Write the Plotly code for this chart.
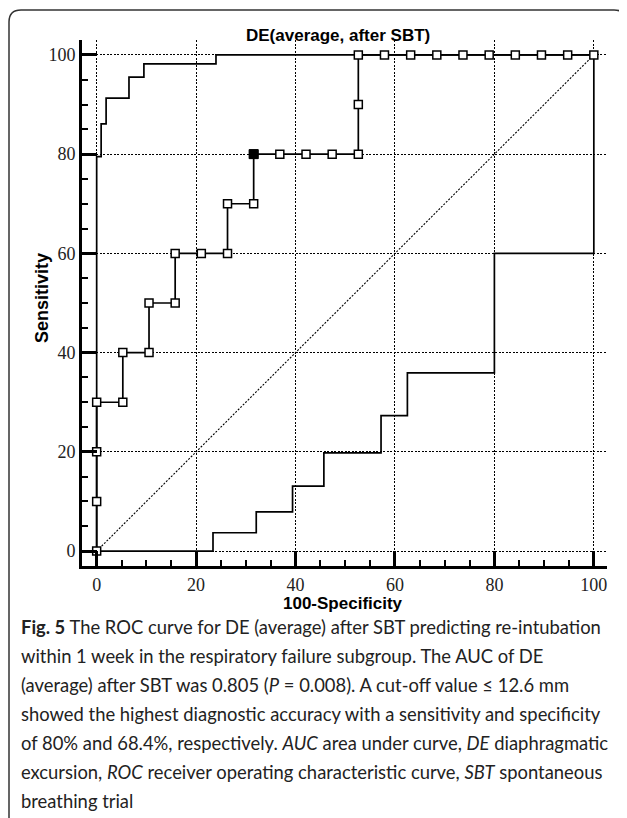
import plotly.graph_objects as go

# ---- data ----
roc_fpr = [0, 0, 0, 0, 5.26, 5.26, 10.53, 10.53, 15.79, 15.79, 21.05, 26.32, 26.32,
           31.58, 31.58, 36.84, 42.11, 47.37, 52.63, 52.63, 52.63, 57.89, 63.16,
           68.42, 73.68, 78.95, 84.21, 89.47, 94.74, 100]
roc_sens = [0, 10, 20, 30, 30, 40, 40, 50, 50, 60, 60, 60, 70,
            70, 80, 80, 80, 80, 80, 90, 100, 100, 100,
            100, 100, 100, 100, 100, 100, 100]
cut_fpr = [31.58]
cut_sens = [80]

upper_fpr = [0, 0, 0.9, 0.9, 1.9, 1.9, 6.5, 6.5, 9.5, 9.5, 24.0, 24.0, 100]
upper_sens = [0, 79.5, 79.5, 86.1, 86.1, 91.3, 91.3, 95.5, 95.5, 98.2, 98.2, 100, 100]

lower_fpr = [0, 23.4, 23.4, 32.1, 32.1, 39.4, 39.4, 45.7, 45.7, 57.2, 57.2, 62.5, 62.5,
             80.0, 80.0, 100, 100]
lower_sens = [0, 0, 3.7, 3.7, 7.9, 7.9, 13.1, 13.1, 19.8, 19.8, 27.3, 27.3, 35.9,
              35.9, 60, 60, 100]

diag_x = [0, 100]
diag_y = [0, 100]

tick_vals = [0, 20, 40, 60, 80, 100]
tick_text = ["0", "20", "40", "60", "80", "100"]

title_text = "DE(average, after SBT)"
x_title = "100-Specificity"
y_title = "Sensitivity"

caption_lines = [
    "<b>Fig. 5</b> The ROC curve for DE (average) after SBT predicting re-intubation",
    "within 1 week in the respiratory failure subgroup. The AUC of DE",
    "(average) after SBT was 0.805 (<i>P</i> = 0.008). A cut-off value \u2264 12.6 mm",
    "showed the highest diagnostic accuracy with a sensitivity and specificity",
    "of 80% and 68.4%, respectively. <i>AUC</i> area under curve, <i>DE</i> diaphragmatic",
    "excursion, <i>ROC</i> receiver operating characteristic curve, <i>SBT</i> spontaneous",
    "breathing trial",
]

# ---- layout geometry (pixels) ----
# the page body has an 8px margin, so the figure is drawn 8px smaller and
# reference pixel positions are shifted by OFF.
OFF = 8
W, H = 619, 810
L, R, T, B = 74, 20, 32, 252
PW, PH = W - L - R, H - T - B


def px(x):
    return (x - OFF - L) / PW


def py(y):
    return (H - B - (y - OFF)) / PH


fig = go.Figure()

fig.add_trace(go.Scatter(x=diag_x, y=diag_y, mode="lines",
                         line=dict(color="black", width=1.1, dash="2px,1.5px"),
                         hoverinfo="skip", showlegend=False))
fig.add_trace(go.Scatter(x=lower_fpr, y=lower_sens, mode="lines",
                         line=dict(color="black", width=1.7),
                         showlegend=False))
fig.add_trace(go.Scatter(x=upper_fpr, y=upper_sens, mode="lines",
                         line=dict(color="black", width=1.7),
                         showlegend=False))
fig.add_trace(go.Scatter(x=roc_fpr, y=roc_sens, mode="lines+markers",
                         line=dict(color="black", width=1.7),
                         marker=dict(symbol="square", size=8, color="white",
                                     line=dict(color="black", width=1.5)),
                         showlegend=False, cliponaxis=False))
fig.add_trace(go.Scatter(x=cut_fpr, y=cut_sens, mode="markers",
                         marker=dict(symbol="square", size=9, color="black",
                                     line=dict(color="black", width=1)),
                         showlegend=False, cliponaxis=False))

axis_common = dict(
    tickvals=tick_vals, ticktext=tick_text,
    ticks="inside", ticklen=15, tickwidth=3, tickcolor="black",
    showline=True, linewidth=3, linecolor="black",
    showgrid=True, gridcolor="black", gridwidth=1.1, griddash="2px,1.5px",
    zeroline=False,
    tickfont=dict(family="Liberation Serif", size=18, color="#222"),
    minor=dict(dtick=5, tick0=0, ticks="inside", ticklen=6, tickwidth=2,
               tickcolor="black", showgrid=False),
)

fig.update_layout(
    width=W, height=H,
    margin=dict(l=L, r=R, t=T, b=B, pad=0),
    paper_bgcolor="white", plot_bgcolor="white",
    xaxis=dict(range=[-2.95, 102.65], **axis_common),
    yaxis=dict(range=[-3.0, 103.0], ticklabelstandoff=0, **axis_common),
    showlegend=False,
)

annotations = [
    dict(text=title_text, x=px(337.5), y=py(35), xref="paper", yref="paper",
         showarrow=False, xanchor="center", yanchor="middle",
         font=dict(family="Liberation Sans", size=17, color="black", weight="bold")),
    dict(text=x_title, x=px(343), y=py(603), xref="paper", yref="paper",
         showarrow=False, xanchor="center", yanchor="middle",
         font=dict(family="Liberation Sans", size=17, color="black", weight="bold")),
    dict(text=y_title, x=px(42), y=py(298), xref="paper", yref="paper",
         showarrow=False, xanchor="center", yanchor="middle", textangle=-90,
         font=dict(family="Liberation Sans", size=18, color="black", weight="bold")),
]

cap_y0 = 627
cap_dy = 29
for i, line in enumerate(caption_lines):
    annotations.append(dict(
        text=line, x=px(19), y=py(cap_y0 + i * cap_dy), xref="paper", yref="paper",
        showarrow=False, xanchor="left", yanchor="middle", align="left",
        font=dict(family="Lato", size=18.4, color="#222")))

fig.update_layout(annotations=annotations)

# rounded frame around figure (reference pixel coordinates)
fl, ft, fr, fb, rad = 9, 10, 626, 840, 12
path = (f"M {px(fl)},{py(fb)} L {px(fl)},{py(ft + rad)} "
        f"Q {px(fl)},{py(ft)} {px(fl + rad)},{py(ft)} "
        f"L {px(fr - rad)},{py(ft)} "
        f"Q {px(fr)},{py(ft)} {px(fr)},{py(ft + rad)} "
        f"L {px(fr)},{py(fb)}")
fig.add_shape(type="path", path=path, xref="paper", yref="paper",
              line=dict(color="#333", width=1.5))

fig.write_html("out.html")
